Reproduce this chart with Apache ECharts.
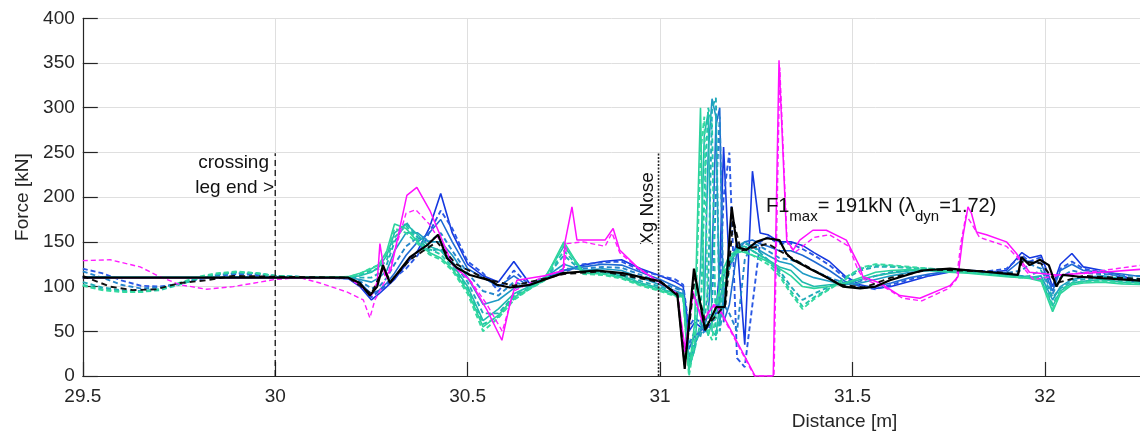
<!DOCTYPE html>
<html><head><meta charset="utf-8">
<script src="https://cdn.jsdelivr.net/npm/echarts@6/dist/echarts.min.js"></script>
<style>html,body{margin:0;padding:0;background:#fff}#c{width:1140px;height:438px}</style>
</head><body><div id="c"></div>
<script>
// ---- shared distance grid for the blue→teal family of runs ----
const X = [29.5,29.55,29.6,29.65,29.7,29.75,29.8,29.85,29.9,29.95,30.0,30.1,30.19,30.22,30.25,30.27,30.29,30.31,30.34,30.37,30.4,30.43,30.46,30.5,30.54,30.58,30.62,30.66,30.7,30.75,30.8,30.85,30.9,30.95,31.0,31.04,31.06,31.075,31.09,31.105,31.115,31.125,31.135,31.145,31.155,31.165,31.18,31.2,31.22,31.24,31.26,31.28,31.31,31.34,31.37,31.4,31.44,31.48,31.52,31.56,31.6,31.65,31.7,31.75,31.8,31.85,31.9,31.94,31.96,31.99,32.02,32.04,32.07,32.1,32.15,32.2,32.27];

// solid runs (blue → teal)
const S1 = [111,111,110,110,110,110,110,110,111,111,111, 110,109,100,85,92,100,108,125,140,165,204,160, 125,112,105,128,104,110,118,124,128,130,120,112,105,100, 50,60,55,50,55,60,70,120,256,120,150,35,229,160,158,150, 150,146,138,128,112,102,98,100,106,112,116,117,116,118,138,132,135,100,125,137,122,118,112,102];
const S2 = [110,110,110,110,110,110,110,110,110,110,110, 110,109,104,92,96,104,115,135,150,160,175,150, 120,110,100,112,100,108,118,122,125,124,116,108,100,96, 30,45,50,55,70,130,280,300,60,80,140,150,152,148,145,140, 140,135,128,118,106,100,100,104,110,114,117,117,115,116,130,128,126,95,118,125,118,116,114,110];
const S3 = [110,110,110,110,110,110,110,110,110,110,110, 110,110,108,105,110,118,140,160,160,150,150,135, 110,80,85,98,102,110,125,118,120,118,110,102,95,92, 15,35,50,80,250,310,290,60,90,125,145,150,145,140,135,128, 125,115,110,106,102,104,108,112,116,118,118,117,115,113,112,110,112,85,100,108,110,112,108,106];
const S4 = [110,110,110,110,110,110,110,110,110,110,110, 110,111,112,116,122,135,160,170,158,145,140,125, 100,62,75,92,100,110,145,118,116,112,104,98,92,90, 8,30,120,270,295,50,45,80,110,130,142,145,140,135,130,122, 118,105,100,102,103,108,112,115,118,118,117,116,114,112,111,110,108,78,95,104,106,108,105,104];
const S5 = [110,110,110,110,110,110,110,110,110,110,110, 110,111,115,120,125,140,170,165,150,138,132,120, 95,55,68,88,98,108,150,115,114,110,102,96,90,88, 5,60,300,60,45,60,80,100,120,135,140,138,135,132,128,120, 112,100,98,100,104,110,116,118,119,118,116,115,113,111,110,109,106,72,92,102,104,105,103,102];

// dashed runs (blue → teal)
const D1 = [120,115,107,101,100,103,108,112,114,113,112, 110,109,102,88,95,102,110,120,135,160,185,165, 128,115,95,118,102,108,116,125,127,128,118,112,108,102, 55,65,60,50,50,60,65,90,200,250,20,10,80,150,155,148, 148,142,135,124,110,100,97,102,108,113,117,118,117,120,135,128,133,98,120,128,120,116,110,100];
const D2 = [117,110,102,98,99,103,109,113,115,114,112, 110,110,106,98,100,110,125,145,155,150,160,140, 115,95,90,105,100,109,120,120,122,121,113,105,98,95, 35,50,45,50,60,80,200,290,80,70,50,130,148,145,140,132, 130,125,118,110,104,106,112,116,118,119,119,118,116,115,118,125,120,92,110,118,115,114,112,112];
const D3 = [105,99,96,95,97,103,110,114,116,115,112, 110,110,110,110,115,125,150,172,155,140,142,128, 105,70,70,90,98,108,135,116,117,114,106,100,94,91, 20,40,45,60,100,300,311,50,80,120,140,148,145,138,130,118, 100,85,92,100,108,118,122,122,121,120,119,117,115,113,111,112,118,88,98,106,108,110,110,108];
const D4 = [102,97,95,94,96,102,109,114,116,115,112, 110,111,113,118,120,130,155,168,152,142,136,122, 98,58,66,86,97,107,140,117,115,111,103,97,91,90, 10,30,60,200,300,280,40,70,100,125,140,145,140,135,128,115, 95,78,88,98,110,120,124,123,121,119,118,116,114,112,110,111,110,80,96,104,106,107,106,105];
const D5 = [101,96,94,94,97,104,111,115,117,115,112, 110,111,114,121,124,138,165,160,148,136,130,118, 92,50,65,85,97,107,148,114,113,109,101,95,89,88, 0,40,250,290,50,40,70,95,115,130,138,140,135,130,125,112, 92,75,86,97,108,121,125,124,122,120,118,116,114,112,110,110,107,75,94,103,105,106,104,103];

// black reference (solid) and black dashed
const BLACK_X = [29.5,30.19,30.22,30.246,30.265,30.28,30.298,30.35,30.394,30.423,30.446,30.472,30.506,30.558,30.576,30.61,30.662,30.748,30.836,30.903,31.0,31.045,31.064,31.088,31.117,31.146,31.168,31.186,31.2,31.225,31.25,31.277,31.31,31.328,31.345,31.38,31.43,31.475,31.52,31.56,31.597,31.68,31.753,31.857,31.93,31.939,31.96,31.987,32.01,32.03,32.046,32.09,32.27];
const BLACK_Y = [110,110,104,90,100,124,104,133,146,158,132,121,113,107,102,99,102,115,118,115,106,90,8,120,51,77,77,189,144,141,150,154,152,137,130,122,111,100,98,100,107,118,120,116,113,133,124,130,124,100,113,111,106];
const BLACKD_X = [29.5,29.57,29.63,29.69,29.753,29.82,29.89,30.0,30.19,30.25,30.28,30.3,30.35,30.42,30.47,30.55,30.62,30.75,30.85,31.0,31.045,31.064,31.09,31.12,31.17,31.19,31.21,31.28,31.33,31.4,31.47,31.53,31.6,31.7,31.85,31.93,31.94,31.99,32.03,32.1,32.27];
const BLACKD_Y = [112,100,96,97,104,107,112,111,110,92,120,106,130,150,125,108,101,114,117,105,92,12,110,55,80,175,140,148,135,118,102,99,110,119,117,114,128,126,104,112,108];

// magenta run (solid) and magenta dashed
const MAG_X = [29.5,30.19,30.23,30.25,30.265,30.272,30.285,30.3,30.342,30.368,30.402,30.428,30.46,30.506,30.55,30.589,30.61,30.628,30.7,30.748,30.753,30.771,30.784,30.857,30.878,30.895,30.94,30.99,31.045,31.065,31.085,31.11,31.14,31.156,31.247,31.294,31.309,31.329,31.346,31.363,31.397,31.432,31.484,31.519,31.527,31.571,31.623,31.675,31.753,31.774,31.787,31.8,31.809,31.822,31.848,31.9,31.926,31.943,31.96,32.03,32.15,32.27];
const MAG_Y = [110,110,98,90,105,148,112,118,202,211,185,158,125,107,74,40,81,107,112,118,150,189,152,152,165,141,122,107,92,30,95,60,80,74,0,0,353,152,141,152,163,163,152,122,111,104,90,87,101,111,156,189,182,161,158,150,137,126,116,113,116,120];
const MAGD_X = [29.5,29.571,29.649,29.7,29.753,29.822,29.891,29.96,30.0,30.064,30.116,30.186,30.229,30.246,30.259,30.29,30.34,30.365,30.4,30.43,30.47,30.51,30.55,30.59,30.62,30.7,30.75,30.758,30.8,30.857,30.875,30.895,30.95,31.0,31.045,31.065,31.085,31.11,31.14,31.156,31.245,31.296,31.311,31.33,31.35,31.4,31.44,31.49,31.515,31.53,31.58,31.63,31.68,31.75,31.77,31.782,31.795,31.81,31.83,31.9,31.93,31.95,31.97,32.03,32.15,32.27];
const MAGD_Y = [129,130,122,111,102,97,100,105,108,110,104,94,85,65,85,110,182,186,170,150,120,105,80,50,95,112,118,148,150,145,160,138,118,105,92,25,90,65,78,72,0,0,345,150,138,155,158,145,118,108,100,87,84,98,108,150,180,170,155,145,132,118,108,112,118,125];

// reference markers
const CROSSING_X = 30.0, NOSE_X = 30.996, MARK_TOP = 249;

// ---------------------------------------------------------
const FONT = "'Liberation Sans', Arial, Helvetica, sans-serif";
const zip = (xs, ys) => xs.map((x, i) => [x, ys[i]]);
const series = [];
const fam = [
  [S1, '#1538e0', false], [D1, '#2a58e4', true],
  [S2, '#1f6bd2', false], [D2, '#2586cc', true],
  [S3, '#1e9ac4', false], [D3, '#21abb8', true],
  [S4, '#20bbad', false], [D4, '#23c6a8', true],
  [S5, '#2bd39d', false], [D5, '#34d9a0', true]
];
fam.forEach(([ys, col, dashed]) => {
  series.push({type:'line', data: zip(X, ys), showSymbol:false, symbol:'none', silent:true,
    lineStyle:{color:col, width: dashed ? 1.9 : 1.6, type: dashed ? [5,3] : 'solid'}});
});
series.push({type:'line', data: zip(MAGD_X, MAGD_Y), showSymbol:false, symbol:'none', silent:true,
  lineStyle:{color:'#ff1eff', width:1.4, type:[5,3]}});
series.push({type:'line', data: zip(MAG_X, MAG_Y), showSymbol:false, symbol:'none', silent:true,
  lineStyle:{color:'#ff10ff', width:1.5}});
series.push({type:'line', data: zip(BLACKD_X, BLACKD_Y), showSymbol:false, symbol:'none', silent:true,
  lineStyle:{color:'#111', width:1.9, type:[6,4]}});
series.push({type:'line', data: zip(BLACK_X, BLACK_Y), showSymbol:false, symbol:'none', silent:true,
  lineStyle:{color:'#000', width:2.2}});
// vertical reference lines
series.push({type:'line', data: [[CROSSING_X,0],[CROSSING_X,MARK_TOP]], showSymbol:false, symbol:'none', silent:true,
  lineStyle:{color:'#111', width:1.3, type:[6,4]}});
series.push({type:'line', data: [[NOSE_X,0],[NOSE_X,MARK_TOP]], showSymbol:false, symbol:'none', silent:true,
  lineStyle:{color:'#222', width:1.6, type:[2,1.5]}});

const chart = echarts.init(document.getElementById('c'), null, {renderer:'canvas'});
chart.setOption({
  animation:false,
  backgroundColor:'#fff',
  grid:{left:82.8, top:18.3, bottom:62, right:0, containLabel:false, outerBoundsMode:'none'},
  xAxis:{type:'value', min:29.5, max:32.247, interval:0.5,
    axisLine:{show:true, onZero:false, lineStyle:{color:'#262626', width:1.2}},
    axisTick:{show:true, inside:true, length:14, lineStyle:{color:'#262626', width:1.2}},
    axisLabel:{fontFamily:FONT, fontSize:19, color:'#262626', margin:11,
      showMinLabel:true, showMaxLabel:false,
      formatter: v => String(+v.toFixed(1))},
    splitLine:{show:true, showMaxLine:false, lineStyle:{color:'#dfdfdf', width:1}}},
  yAxis:{type:'value', min:0, max:400, interval:50,
    name:'Force [kN]', nameLocation:'middle', nameGap:47,
    nameTextStyle:{fontFamily:FONT, fontSize:19, color:'#262626'},
    axisLine:{show:true, lineStyle:{color:'#262626', width:1.2}},
    axisTick:{show:true, inside:true, length:15, lineStyle:{color:'#262626', width:1.2}},
    axisLabel:{fontFamily:FONT, fontSize:19, color:'#262626', margin:8},
    splitLine:{show:true, lineStyle:{color:'#dfdfdf', width:1}}},
  series: series,
  graphic:[
    {type:'text', x:844.5, y:421.7, silent:true,
      style:{text:'Distance [m]', font:'19px ' + FONT, fill:'#262626', align:'center', verticalAlign:'middle'}},
    {type:'text', x:269, y:163, silent:true,
      style:{text:'crossing', font:'19px ' + FONT, fill:'#111', align:'right', verticalAlign:'middle'}},
    {type:'text', x:274, y:188, silent:true,
      style:{text:'leg end >', font:'19px ' + FONT, fill:'#111', align:'right', verticalAlign:'middle'}},
    {type:'text', x:648, y:208.5, rotation:Math.PI/2, silent:true,
      style:{text:'Xg Nose', font:'19px ' + FONT, fill:'#111', align:'center', verticalAlign:'middle'}},
    {type:'text', x:766, y:196, silent:true, z:100,
      style:{text:'{a|F1}{s|max}{a|= 191kN (}{a|λ}{s|dyn}{a|=1.72)}',
        fill:'#111', align:'left', verticalAlign:'top',
        rich:{
          a:{fontFamily:FONT, fontSize:20, lineHeight:23, verticalAlign:'top', fill:'#111', color:'#111'},
          s:{fontFamily:FONT, fontSize:15, lineHeight:17, padding:[13,0,0,0], verticalAlign:'top', fill:'#111', color:'#111'}
        }}}
  ]
});
</script></body></html>
